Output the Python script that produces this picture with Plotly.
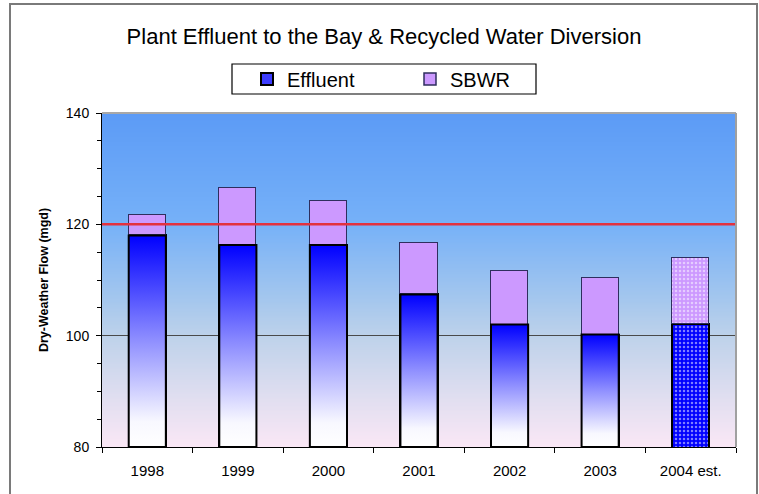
import base64
import struct
import zlib
import plotly.graph_objects as go

# ---------------- data ----------------
years = ['1998', '1999', '2000', '2001', '2002', '2003', '2004 est.']
effluent = [118.0, 116.3, 116.3, 107.4, 102.0, 100.2, 102.1]   # mgd, effluent to the Bay
sbwr = [3.7, 10.2, 7.9, 9.2, 9.7, 10.2, 11.8]                  # mgd, recycled water diversion
is_estimate = [False, False, False, False, False, False, True]
flow_trigger = 120        # red reference line
y_range = [80, 140]

# ---------------- helpers ----------------
def gradient_png(stops, h=256):
    """Vertical gradient PNG (top -> bottom) as data URI."""
    rows = []
    for j in range(h):
        t = j / (h - 1)
        for k in range(len(stops) - 1):
            t0, c0 = stops[k]
            t1, c1 = stops[k + 1]
            if t0 <= t <= t1:
                f = 0 if t1 == t0 else (t - t0) / (t1 - t0)
                rows.append(tuple(int(round(c0[i] + (c1[i] - c0[i]) * f)) for i in range(3)))
                break
    raw = b''.join(b'\x00' + bytes(c) * 2 for c in rows)

    def chunk(tag, data):
        return (struct.pack('>I', len(data)) + tag + data +
                struct.pack('>I', zlib.crc32(tag + data) & 0xffffffff))
    png = (b'\x89PNG\r\n\x1a\n' +
           chunk(b'IHDR', struct.pack('>IIBBBBB', 2, h, 8, 2, 0, 0, 0)) +
           chunk(b'IDAT', zlib.compress(raw)) + chunk(b'IEND', b''))
    return 'data:image/png;base64,' + base64.b64encode(png).decode()

bg_uri = gradient_png([
    (0.00, (92, 155, 246)),
    (0.33, (118, 177, 248)),
    (0.55, (163, 198, 238)),
    (0.67, (190, 210, 234)),
    (0.85, (224, 222, 240)),
    (1.00, (250, 231, 245)),
])

FONT = 'Liberation Sans, Arial, sans-serif'
BAR_W = 0.41
xs = list(range(len(years)))

fig = go.Figure()

# Effluent bars (solid / dotted for estimate)
fig.add_bar(
    x=xs, y=effluent, width=BAR_W, name='Effluent',
    marker=dict(
        color=['#3d3dff' if not e else '#0000FF' for e in is_estimate],
        line=dict(color='black', width=2),
        pattern=dict(shape=['.' if e else '' for e in is_estimate],
                     fgcolor='white', size=4, solidity=0.3),
    ),
    hoverinfo='skip',
)
# SBWR bars stacked on top
fig.add_bar(
    x=xs, y=sbwr, width=BAR_W, name='SBWR',
    marker=dict(
        color='#CC99FF',
        line=dict(color='#2e2e5e', width=1.5),
        pattern=dict(shape=['.' if e else '' for e in is_estimate],
                     fgcolor='white', size=4, solidity=0.3),
    ),
    hoverinfo='skip',
)

# gradient fill for the measured effluent bars
for i, (v, est) in enumerate(zip(effluent, is_estimate)):
    if est:
        continue
    x0, x1 = i - BAR_W / 2, i + BAR_W / 2
    fig.add_trace(go.Scatter(
        x=[x0, x1, x1, x0, x0], y=[y_range[0], y_range[0], v, v, y_range[0]],
        mode='lines', fill='toself',
        fillgradient=dict(type='vertical',
                          colorscale=[[0, '#FFFFFF'], [0.12, '#F8F8FF'],
                                      [0.5, '#9090FF'], [1, '#0000FF']],
                          start=y_range[0], stop=v),
        line=dict(color='black', width=2),
        showlegend=False, hoverinfo='skip',
    ))

PLOT_L, PLOT_R, PLOT_T, PLOT_B = 102, 736, 113, 447
W, H = 759, 494
pw, ph = PLOT_R - PLOT_L, PLOT_B - PLOT_T

def px_x(p):
    return (p - PLOT_L) / pw

def px_y(p):
    return (PLOT_B - p) / ph

shapes = [
    # red reference line
    dict(type='line', xref='paper', x0=0, x1=1, yref='y', y0=flow_trigger, y1=flow_trigger,
         line=dict(color='#E3313E', width=2.5), layer='above'),
    # plot area top / right border
    dict(type='line', xref='paper', yref='paper', x0=0, x1=1, y0=1, y1=1,
         line=dict(color='#A8A8A8', width=2), layer='above'),
    dict(type='line', xref='paper', yref='paper', x0=1, x1=1, y0=0, y1=1,
         line=dict(color='#A0A0A0', width=2), layer='above'),
    # legend box
    dict(type='rect', xref='paper', yref='paper',
         x0=px_x(232), x1=px_x(536), y0=px_y(94), y1=px_y(64),
         line=dict(color='black', width=1.2), fillcolor='white', layer='below'),
    # chart outer border (bottom edge lies outside the picture)
    dict(type='rect', xref='paper', yref='paper',
         x0=px_x(10), x1=px_x(757), y0=px_y(510), y1=px_y(4),
         line=dict(color='#7a7a7a', width=2), layer='below'),
]

fig.update_layout(
    width=W, height=H,
    margin=dict(l=PLOT_L, r=W - PLOT_R, t=PLOT_T, b=H - PLOT_B, pad=0),
    paper_bgcolor='white', plot_bgcolor='#BBD0EA',
    barmode='stack', bargap=0,
    font=dict(family=FONT, color='black'),
    title=dict(text='Plant Effluent to the Bay & Recycled Water Diversion',
               x=384 / W, xanchor='center', xref='container',
               y=1 - 36 / H, yanchor='middle', yref='container',
               font=dict(size=22, family=FONT, color='black')),
    legend=dict(orientation='h', x=px_x(247), xanchor='left',
                y=px_y(79), yanchor='middle',
                bgcolor='rgba(0,0,0,0)', borderwidth=0,
                font=dict(size=20, family=FONT),
                entrywidth=118, entrywidthmode='pixels',
                traceorder='normal'),
    images=[dict(source=bg_uri, xref='x domain', yref='y domain', x=0, y=1,
                 sizex=1, sizey=1, xanchor='left', yanchor='top',
                 sizing='stretch', layer='below')],
    shapes=shapes,
    xaxis=dict(range=[-0.5, 6.5], tickmode='array', tickvals=xs, ticktext=years,
               ticks='', showgrid=False, zeroline=False,
               showline=True, linecolor='black', linewidth=1,
               tickfont=dict(size=15, family=FONT),
               ticklabelstandoff=10,
               minor=dict(tick0=0.5, dtick=1, ticks='outside', ticklen=5,
                          tickcolor='black', tickwidth=1, showgrid=False)),
    yaxis=dict(range=y_range, tickmode='linear', tick0=80, dtick=20,
               ticks='outside', ticklen=5, tickcolor='black',
               showgrid=True, gridcolor='#4a4a4a', gridwidth=1, zeroline=False,
               showline=True, linecolor='black', linewidth=1,
               tickfont=dict(size=14, family=FONT),
               ticklabelstandoff=4,
               minor=dict(dtick=5, ticks='outside', ticklen=4,
                          tickcolor='black', showgrid=False),
               title=dict(text='<b>Dry-Weather Flow (mgd)</b>',
                          font=dict(size=12.5, family=FONT), standoff=14)),
)

fig.write_html('out.html')
